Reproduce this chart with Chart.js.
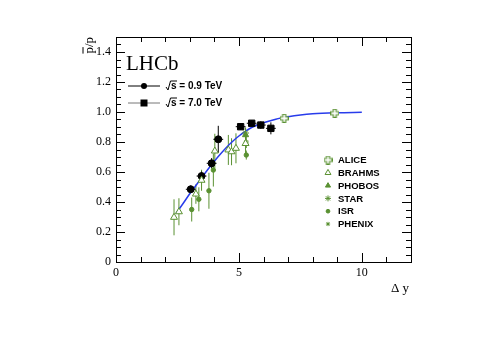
<!DOCTYPE html>
<html>
<head>
<meta charset="utf-8">
<script src="https://cdn.jsdelivr.net/npm/chart.js@4"></script>
<style>
html, body { margin: 0; padding: 0; background: #fff; }
#wrap { width: 500px; height: 353px; }
</style>
</head>
<body>
<div id="wrap"><canvas id="myChart" width="500" height="353"></canvas></div>
<script>
// LHCb sqrt(s)=0.9 TeV
var lhcb09X = [3.04, 3.48, 3.89, 4.16];
var lhcb09Y = [0.485, 0.573, 0.658, 0.818];
var lhcb09Err = [0.025, 0.03, 0.035, 0.09];
// LHCb sqrt(s)=7.0 TeV
var lhcb7X = [5.07, 5.52, 5.89, 6.30];
var lhcb7Y = [0.902, 0.925, 0.913, 0.891];
var lhcb7Err = [0.02, 0.02, 0.025, 0.04];
var lhcbXErr = 0.2;

var aliceX = [6.84, 8.90];
var aliceY = [0.958, 0.992];
var aliceErr = [0.012, 0.01];

var brahmsX = [2.36, 2.56, 3.25, 3.48, 4.02, 4.57, 4.70, 4.88, 5.27];
var brahmsY = [0.298, 0.335, 0.453, 0.545, 0.74, 0.747, 0.735, 0.758, 0.79];
var brahmsErr = [0.12, 0.09, 0.065, 0.07, 0.115, 0.1, 0.09, 0.1, 0.07];

var phobosX = [5.27];
var phobosY = [0.847];
var phobosErr = [0.05];

var starX = [5.27];
var starY = [0.86];
var starErr = [0.03];

var isrX = [3.08, 3.37, 3.78, 3.96, 5.30];
var isrY = [0.35, 0.418, 0.475, 0.613, 0.713];
var isrErr = [0.08, 0.08, 0.12, 0.11, 0.03];

var phenixX = [5.30];
var phenixY = [0.80];
var phenixErr = [0.04];

// fit curve
var fitX = [2.45, 2.75, 3.0, 3.25, 3.5, 3.75, 4.0, 4.25, 4.5, 4.75, 5.0, 5.5, 6.0, 6.5, 7.0, 7.5, 8.0, 9.0, 10.0];
var fitY = [0.325, 0.395, 0.455, 0.51, 0.565, 0.62, 0.672, 0.72, 0.765, 0.805, 0.84, 0.895, 0.928, 0.952, 0.968, 0.98, 0.988, 0.995, 0.998];

var xTicks = [0, 5, 10];
var yTicks = [0, 0.2, 0.4, 0.6, 0.8, 1, 1.2, 1.4];

var green = 'rgb(90,145,50)';

function pts(xs, ys) {
    var out = [];
    for (var i = 0; i < xs.length; i++) out.push({ x: xs[i], y: ys[i] });
    return out;
}

// open cross marker for ALICE
function openCross(col) {
    var c = document.createElement('canvas');
    c.width = 9; c.height = 9;
    var g = c.getContext('2d');
    g.strokeStyle = col; g.lineWidth = 1.2; g.fillStyle = '#fff';
    g.beginPath();
    g.moveTo(3, 0.5); g.lineTo(6, 0.5); g.lineTo(6, 3); g.lineTo(8.5, 3); g.lineTo(8.5, 6);
    g.lineTo(6, 6); g.lineTo(6, 8.5); g.lineTo(3, 8.5); g.lineTo(3, 6); g.lineTo(0.5, 6);
    g.lineTo(0.5, 3); g.lineTo(3, 3); g.closePath();
    g.fill(); g.stroke();
    return c;
}
var aliceMarker = openCross(green);

var errorBars = {
    id: 'errorBars',
    beforeDatasetsDraw: function(chart) {
        var ctx = chart.ctx, xs = chart.scales.x, ys = chart.scales.y;
        chart.data.datasets.forEach(function(ds) {
            if (!ds.errY) return;
            ctx.save();
            ctx.strokeStyle = ds.errColor;
            ctx.lineWidth = 1;
            ds.data.forEach(function(p, i) {
                var px = xs.getPixelForValue(p.x);
                ctx.beginPath();
                ctx.moveTo(px, ys.getPixelForValue(p.y - ds.errY[i]));
                ctx.lineTo(px, ys.getPixelForValue(p.y + ds.errY[i]));
                if (ds.errX) {
                    var py = ys.getPixelForValue(p.y);
                    ctx.moveTo(xs.getPixelForValue(p.x - ds.errX), py);
                    ctx.lineTo(xs.getPixelForValue(p.x + ds.errX), py);
                }
                ctx.stroke();
            });
            ctx.restore();
        });
    }
};

var frame = {
    id: 'frame',
    afterDraw: function(chart) {
        var ctx = chart.ctx, a = chart.chartArea, xs = chart.scales.x, ys = chart.scales.y;
        ctx.save();
        ctx.strokeStyle = '#000';
        ctx.lineWidth = 1;
        ctx.strokeRect(a.left + 0.5, a.top + 0.5, a.right - a.left, a.bottom - a.top);
        ctx.beginPath();
        for (var v = 0; v <= 12; v++) {
            var len = (v % 5 == 0) ? 9 : 5;
            var px = Math.round(xs.getPixelForValue(v)) + 0.5;
            ctx.moveTo(px, a.bottom); ctx.lineTo(px, a.bottom - len);
            ctx.moveTo(px, a.top); ctx.lineTo(px, a.top + len);
        }
        for (var k = 0; k <= 30; k++) {
            var yv = k * 0.05;
            var l2 = (k % 4 == 0) ? 9 : 5;
            var py = Math.round(ys.getPixelForValue(yv)) + 0.5;
            ctx.moveTo(a.left, py); ctx.lineTo(a.left + l2, py);
            ctx.moveTo(a.right, py); ctx.lineTo(a.right - l2, py);
        }
        ctx.stroke();

        // axis titles
        ctx.fillStyle = '#000';
        ctx.font = '13px "Liberation Serif"';
        ctx.textAlign = 'right';
        ctx.textBaseline = 'alphabetic';
        ctx.fillText('\u0394 y', a.right - 2, 292);
        ctx.save();
        ctx.translate(93, a.top);
        ctx.rotate(-Math.PI / 2);
        ctx.textAlign = 'right';
        ctx.fillText('p/p', 0, 0);
        var w = ctx.measureText('p/p').width, wp = ctx.measureText('p').width;
        ctx.beginPath();
        ctx.moveTo(-w, -10); ctx.lineTo(-w + wp, -10);
        ctx.stroke();
        ctx.restore();

        // LHCb label
        ctx.textAlign = 'left';
        ctx.font = '21px "Liberation Serif"';
        ctx.fillText('LHCb', 126, 70);

        // LHCb legend
        var rows = [['0.9', 'circle', 86], ['7.0', 'rect', 103]];
        rows.forEach(function(r) {
            ctx.strokeStyle = r[1] == 'circle' ? '#000' : '#777';
            ctx.lineWidth = 1;
            ctx.beginPath(); ctx.moveTo(128, r[2]); ctx.lineTo(160, r[2]); ctx.stroke();
            ctx.fillStyle = '#000';
            ctx.beginPath();
            if (r[1] == 'circle') ctx.arc(144, r[2], 3, 0, Math.PI * 2);
            else ctx.rect(140.5, r[2] - 3.5, 7, 7);
            ctx.fill();
            ctx.font = 'bold 10px "Liberation Sans"';
            ctx.strokeStyle = '#000';
            ctx.beginPath();
            ctx.moveTo(166, r[2] + 1); ctx.lineTo(168, r[2] + 4); ctx.lineTo(170.5, r[2] - 5); ctx.lineTo(177, r[2] - 5);
            ctx.stroke();
            ctx.textBaseline = 'middle';
            ctx.fillText('s = ' + r[0] + ' TeV', 171, r[2] + 0.5);
        });

        // other experiments legend
        var names = ['ALICE', 'BRAHMS', 'PHOBOS', 'STAR', 'ISR', 'PHENIX'];
        var dsIdx = [2, 1, 3, 4, 5, 6];
        ctx.font = 'bold 9.5px "Liberation Sans"';
        ctx.textBaseline = 'middle';
        names.forEach(function(n, i) {
            var yy = 160 + i * 12.8;
            var ds = chart.data.datasets[dsIdx[i]];
            ctx.fillStyle = ds.backgroundColor;
            ctx.strokeStyle = ds.borderColor;
            ctx.lineWidth = 1;
            Chart.helpers.drawPoint(ctx, {
                pointStyle: ds.pointStyle, radius: ds.pointRadius * 0.85, rotation: 0,
                borderWidth: 1
            }, 328, yy);
            ctx.fillStyle = '#000';
            ctx.fillText(n, 338, yy + 0.5);
        });
        ctx.restore();
    }
};

var ctx = document.getElementById('myChart');
var myChart = new Chart(ctx, {
    type: 'scatter',
    data: {
        datasets: [
            { label: 'fit', data: pts(fitX, fitY), showLine: true, borderColor: 'rgb(40,60,235)', borderWidth: 1.5,
              pointRadius: 0, cubicInterpolationMode: 'monotone', order: 10 },
            { label: 'BRAHMS', data: pts(brahmsX, brahmsY), errY: brahmsErr, errColor: green, pointStyle: 'triangle',
              pointRadius: 4, borderColor: green, backgroundColor: '#fff', borderWidth: 1 },
            { label: 'ALICE', data: pts(aliceX, aliceY), errY: aliceErr, errColor: green, pointStyle: aliceMarker,
              pointRadius: 4, borderColor: green, backgroundColor: '#fff' },
            { label: 'PHOBOS', data: pts(phobosX, phobosY), errY: phobosErr, errColor: green, pointStyle: 'triangle',
              pointRadius: 3.5, borderColor: green, backgroundColor: green },
            { label: 'STAR', data: pts(starX, starY), errY: starErr, errColor: green, pointStyle: 'star',
              pointRadius: 3.5, borderColor: green, backgroundColor: green },
            { label: 'ISR', data: pts(isrX, isrY), errY: isrErr, errColor: green, pointStyle: 'circle',
              pointRadius: 2.2, borderColor: green, backgroundColor: green },
            { label: 'PHENIX', data: pts(phenixX, phenixY), errY: phenixErr, errColor: green, pointStyle: 'star',
              pointRadius: 2.5, borderColor: green, backgroundColor: green },
            { label: '0.9 TeV', data: pts(lhcb09X, lhcb09Y), errY: lhcb09Err, errX: lhcbXErr, errColor: '#000',
              pointStyle: 'circle', pointRadius: 3.5, borderColor: '#000', backgroundColor: '#000' },
            { label: '7.0 TeV', data: pts(lhcb7X, lhcb7Y), errY: lhcb7Err, errX: lhcbXErr, errColor: '#000',
              pointStyle: 'rect', pointRadius: 4.5, borderColor: '#000', backgroundColor: '#000' }
        ]
    },
    options: {
        animation: false,
        responsive: false,
        devicePixelRatio: 1,
        layout: { padding: { top: 37, right: 89, left: 0, bottom: 0 } },
        plugins: { legend: { display: false }, tooltip: { enabled: false } },
        scales: {
            x: {
                type: 'linear', min: 0, max: 12,
                afterFit: function(s) { s.height = 91; },
                afterBuildTicks: function(s) { s.ticks = xTicks.map(function(v) { return { value: v }; }); },
                grid: { display: false, drawTicks: false },
                border: { display: false },
                ticks: { color: '#000', padding: 4, font: { family: 'Liberation Serif', size: 12 } }
            },
            y: {
                type: 'linear', min: 0, max: 1.5,
                afterFit: function(s) { s.width = 116; },
                afterBuildTicks: function(s) { s.ticks = yTicks.map(function(v) { return { value: v }; }); },
                grid: { display: false, drawTicks: false },
                border: { display: false },
                ticks: { color: '#000', padding: 5, font: { family: 'Liberation Serif', size: 12 } }
            }
        }
    },
    plugins: [errorBars, frame]
});
</script>
</body>
</html>
